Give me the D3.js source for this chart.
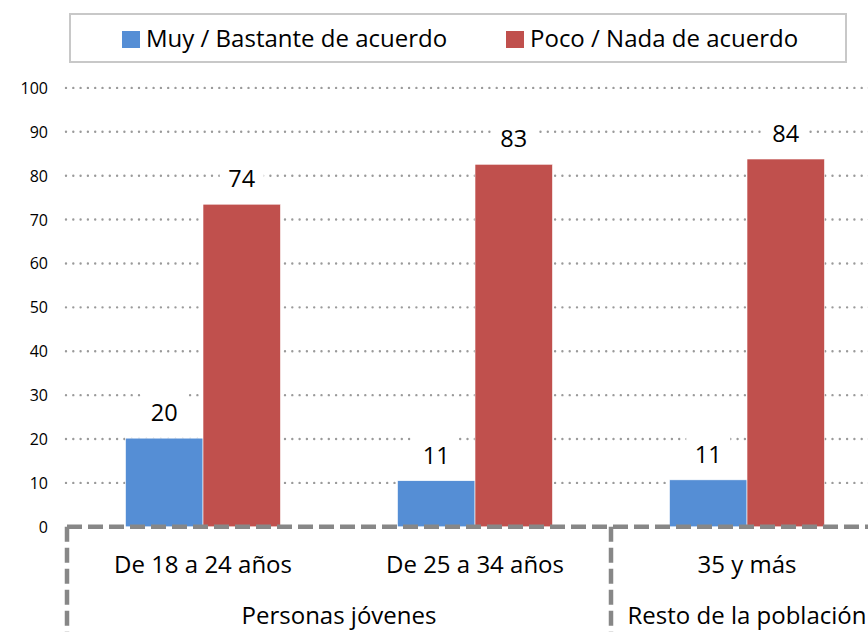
<!DOCTYPE html>
<html>
<head>
<meta charset="utf-8">
<script src="https://cdn.jsdelivr.net/npm/d3@7"></script>
<style>
  body { margin: 0; background: #fff; }
  svg text { font-family: "Open Sans", Lato, sans-serif; fill: #000; }
</style>
</head>
<body>
<div class="chart"></div>
<script>
const categories = ["De 18 a 24 años", "De 25 a 34 años", "35 y más"];
const groupNames = ["Personas jóvenes", "Resto de la población"];
const groupSizes = [2, 1];
const seriesNames = ["Muy / Bastante de acuerdo", "Poco / Nada de acuerdo"];
const muyBastante = [20.2, 10.5, 10.7];
const pocoNada = [73.5, 82.6, 83.8];
const yTicks = [0, 10, 20, 30, 40, 50, 60, 70, 80, 90, 100];

const colors = ["#558ed5", "#c0504d"];
const w = 868, h = 632;

const svg = d3.select(".chart").append("svg")
  .attr("width", w).attr("height", h);

const y = d3.scaleLinear().domain([0, 100]).range([526.8, 87.9]);
const x0 = d3.scaleBand().domain(categories).range([67, 67 + 272 * 3]);
const x1 = d3.scaleBand().domain(seriesNames).range([0, 155]);
const off = (x0.bandwidth() - 155) / 2;

// dotted grid
svg.append("g").selectAll("line")
  .data(yTicks.filter(d => d > 0))
  .enter().append("line")
  .attr("x1", 66).attr("x2", w + 10)
  .attr("y1", d => y(d)).attr("y2", d => y(d))
  .attr("stroke", "#9a9a9a").attr("stroke-width", 2.4)
  .attr("stroke-linecap", "round")
  .attr("stroke-dasharray", "0,7.3");

// y labels
svg.append("g").selectAll("text")
  .data(yTicks).enter().append("text")
  .attr("x", 48).attr("y", d => y(d) + 6)
  .attr("text-anchor", "end")
  .style("font-size", "16px")
  .text(d => d);

const rows = categories.map((c, i) => ({ cat: c, vals: [muyBastante[i], pocoNada[i]] }));

const cat = svg.append("g").selectAll("g")
  .data(rows).enter().append("g")
  .attr("transform", d => "translate(" + (x0(d.cat) + off) + ",0)");

cat.selectAll("rect")
  .data(d => d.vals.map((v, j) => ({ s: seriesNames[j], v: v, j: j })))
  .enter().append("rect")
  .attr("x", d => x1(d.s))
  .attr("width", x1.bandwidth())
  .attr("y", d => y(d.v))
  .attr("height", d => y(0) - y(d.v))
  .attr("fill", d => colors[d.j])
  .attr("stroke", "#fff").attr("stroke-width", 0.6);

// data labels with white boxes
const lab = cat.selectAll("g.lab")
  .data(d => d.vals.map((v, j) => ({ s: seriesNames[j], v: v })))
  .enter().append("g").attr("class", "lab")
  .attr("transform", d => "translate(" + (x1(d.s) + x1.bandwidth() / 2) + "," + (y(d.v) - 25.5) + ")");
lab.append("rect")
  .attr("x", -22).attr("y", -21).attr("width", 44).attr("height", 42)
  .attr("fill", "#fff");
lab.append("text")
  .attr("y", 8.5)
  .attr("text-anchor", "middle")
  .style("font-size", "23.5px")
  .text(d => Math.round(d.v));

// category labels
svg.append("g").selectAll("text")
  .data(categories).enter().append("text")
  .attr("x", d => x0(d) + x0.bandwidth() / 2)
  .attr("y", 573)
  .attr("text-anchor", "middle")
  .style("font-size", "24px")
  .text(d => d);

// group labels and dashed separators
let start = 0;
const groupRows = groupNames.map((g, i) => {
  const r = { name: g, a: x0(categories[start]), b: x0(categories[start + groupSizes[i] - 1]) + x0.bandwidth() };
  start += groupSizes[i];
  return r;
});

svg.append("g").selectAll("text")
  .data(groupRows).enter().append("text")
  .attr("x", d => (d.a + d.b) / 2)
  .attr("y", 623.5)
  .attr("text-anchor", "middle")
  .style("font-size", "24px")
  .text(d => d.name);

const dash = svg.append("g")
  .attr("stroke", "#878787").attr("stroke-width", 4.5)
  .attr("stroke-dasharray", "15,6").attr("fill", "none");
dash.append("line")
  .attr("x1", 67).attr("x2", w + 20)
  .attr("y1", y(0)).attr("y2", y(0));
dash.selectAll("line.v")
  .data(groupRows).enter().append("line").attr("class", "v")
  .attr("x1", d => d.a).attr("x2", d => d.a)
  .attr("y1", y(0)).attr("y2", h + 10);

// legend
svg.append("rect")
  .attr("x", 70).attr("y", 14).attr("width", 776).attr("height", 48)
  .attr("fill", "#fff").attr("stroke", "#c8c8c8").attr("stroke-width", 2);
const legX = [122, 506];
const leg = svg.append("g").selectAll("g")
  .data(seriesNames).enter().append("g")
  .attr("transform", (d, i) => "translate(" + legX[i] + ",31)");
leg.append("rect")
  .attr("width", 18).attr("height", 17)
  .attr("fill", (d, i) => colors[i]);
leg.append("text")
  .attr("x", 24).attr("y", 16)
  .style("font-size", "24px")
  .text(d => d);
</script>
</body>
</html>
